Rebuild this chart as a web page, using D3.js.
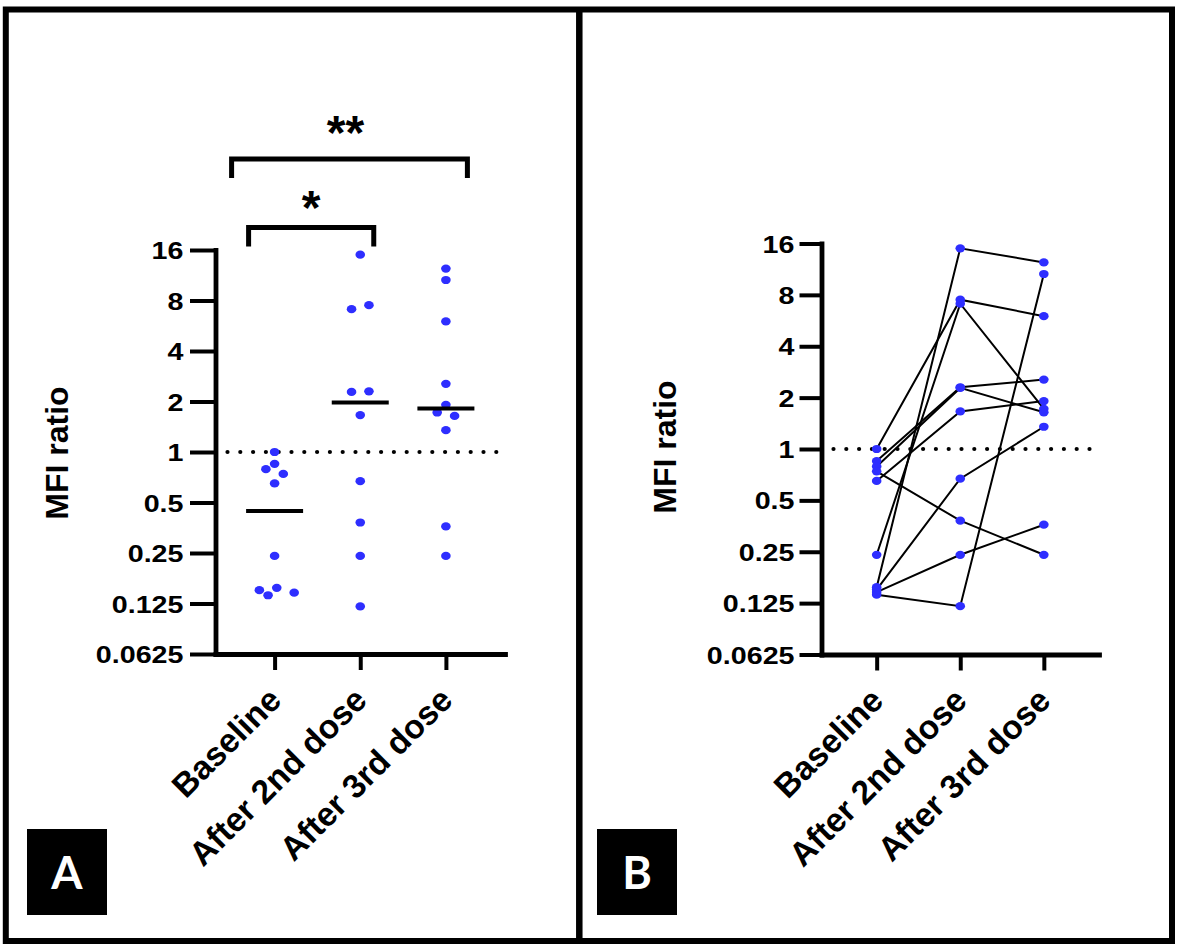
<!DOCTYPE html>
<html><head><meta charset="utf-8">
<script src="https://cdn.jsdelivr.net/npm/d3@7"></script>
<style>html,body{margin:0;padding:0;background:#fff;} svg{display:block}</style>
</head><body>
<script>
// ---------------- DATA ----------------
const categories = ["Baseline", "After 2nd dose", "After 3rd dose"];
// one value per subject (same subject order in every array)
const baseline   = [0.155, 1.0, 0.24, 0.85, 0.79, 0.65, 0.15, 0.74, 0.145, 0.14];
const afterDose2 = [15.0, 7.5, 7.1, 2.3, 2.28, 1.66, 0.67, 0.38, 0.24, 0.12];
const afterDose3 = [12.4, 6.0, 1.72, 2.55, 1.64, 1.91, 1.35, 0.24, 0.36, 10.6];
const yTicks = [0.0625, 0.125, 0.25, 0.5, 1, 2, 4, 8, 16];
const yTickLabels = ["0.0625", "0.125", "0.25", "0.5", "1", "2", "4", "8", "16"];
const comparisons = [
  {from: "Baseline", to: "After 2nd dose", label: "*"},
  {from: "Baseline", to: "After 3rd dose", label: "**"}
];
const yTitle = "MFI ratio";
const referenceValue = 1;

// ---------------- LAYOUT ----------------
const series = [baseline, afterDose2, afterDose3];
const W = 1181, H = 951;
const FONT = "'Liberation Sans', Arial, Helvetica, sans-serif";
const BLUE = "#2e2eff";

const svg = d3.select("body").append("svg").attr("width", W).attr("height", H);
svg.append("rect").attr("width", W).attr("height", H).attr("fill", "#fff");

const panels = [
  {letter: "A", mode: "scatter", axisX: 215.5, yTop: 250, yBottom: 654, xEnd: 505, pad: 0.69,
   tickLen: 25.5, tickPad: 6.5, titleX: 57, titleY: 453, boxX: 27},
  {letter: "B", mode: "lines", axisX: 821.5, yTop: 243.5, yBottom: 654.5, xEnd: 1099, pad: 0.66,
   tickLen: 22, tickPad: 5, titleX: 665, titleY: 447, boxX: 597}
];

panels.forEach(p => {
  const y = d3.scaleLog().base(2).domain([0.0625, 16]).range([p.yBottom, p.yTop]);
  const x = d3.scalePoint().domain(categories).range([p.axisX, p.xEnd]).padding(p.pad);
  const g = svg.append("g");

  // reference dotted line
  g.append("line")
    .attr("x1", p.axisX + 12).attr("x2", p.xEnd)
    .attr("y1", y(referenceValue)).attr("y2", y(referenceValue))
    .attr("stroke", "#000").attr("stroke-width", 4.2)
    .attr("stroke-linecap", "round").attr("stroke-dasharray", "0 12.8");

  // Y axis
  const ya = g.append("g").attr("transform", `translate(${p.axisX},0)`)
    .call(d3.axisLeft(y).tickValues(yTicks).tickFormat((d, i) => yTickLabels[i])
      .tickSize(p.tickLen).tickSizeOuter(0).tickPadding(p.tickPad));
  ya.select(".domain").attr("stroke", "#000").attr("stroke-width", 4.8).attr("stroke-linecap", "square");
  ya.selectAll(".tick line").attr("stroke", "#000").attr("stroke-width", 4);
  ya.selectAll(".tick text")
    .attr("font-family", FONT).attr("font-weight", "bold").attr("font-size", 24.5).attr("fill", "#000")
    .attr("x", -(p.tickLen + p.tickPad) / 1.17).attr("dy", "0.35em")
    .attr("transform", "scale(1.17,1)");

  // X axis
  const xa = g.append("g").attr("transform", `translate(0,${p.yBottom})`)
    .call(d3.axisBottom(x).tickSize(16).tickSizeOuter(0));
  xa.select(".domain").attr("stroke", "#000").attr("stroke-width", 4.8).attr("stroke-linecap", "square");
  xa.selectAll(".tick line").attr("stroke", "#000").attr("stroke-width", 4);
  xa.selectAll(".tick text")
    .attr("font-family", FONT).attr("font-weight", "bold").attr("font-size", 33.5).attr("fill", "#000")
    .attr("x", 0).attr("y", 0).attr("dy", 0).attr("text-anchor", "end")
    .attr("transform", "translate(8,48) rotate(-45)");

  // Y title
  g.append("text")
    .attr("transform", `translate(${p.titleX},${p.titleY}) rotate(-90)`)
    .attr("text-anchor", "middle").attr("dominant-baseline", "central")
    .attr("font-family", FONT).attr("font-weight", "bold").attr("font-size", 32)
    .text(yTitle);

  if (p.mode === "scatter") {
    const h = 8.7, D = 10;
    series.forEach((vals, ci) => {
      const cx = x(categories[ci]);
      const pts = vals.map(v => ({v, py: y(v), ox: 0})).sort((a, b) => a.py - b.py);
      const placed = [];
      const order = [0, -1, 1, -2, 2, -3, 3];
      pts.forEach(pt => {
        for (const k of order) {
          const ox = k * h;
          if (placed.every(q => Math.hypot(q.ox - ox, q.py - pt.py) >= D)) { pt.ox = ox; break; }
        }
        placed.push(pt);
      });
      // recenter collision clusters
      let cluster = [pts[0]];
      const flush = () => {
        if (cluster.length > 1) {
          const m = d3.mean(cluster, d => d.ox);
          cluster.forEach(d => d.ox -= m);
        }
      };
      for (let i = 1; i < pts.length; i++) {
        if (pts[i].py - pts[i - 1].py < D) cluster.push(pts[i]);
        else { flush(); cluster = [pts[i]]; }
      }
      flush();

      g.selectAll(null).data(pts).enter().append("ellipse")
        .attr("cx", d => cx + d.ox).attr("cy", d => d.py)
        .attr("rx", 4.8).attr("ry", 4.1).attr("fill", BLUE);

      const med = d3.median(vals);
      g.append("line")
        .attr("x1", cx - 28.5).attr("x2", cx + 28.5)
        .attr("y1", y(med)).attr("y2", y(med))
        .attr("stroke", "#000").attr("stroke-width", 4);
    });

    // significance brackets
    const padsL = [26, 43], padsR = [13.5, 21.5], textLift = [4, 10];
    comparisons.forEach((c, i) => {
      const x0 = x(c.from) - padsL[i], x1 = x(c.to) + padsR[i];
      const top = p.yTop - 22.5 - i * 68.5;
      g.append("path")
        .attr("d", `M${x0},${top + 19}V${top}H${x1}V${top + 19}`)
        .attr("fill", "none").attr("stroke", "#000").attr("stroke-width", 5)
        .attr("stroke-linejoin", "miter");
      g.append("text")
        .attr("x", (x0 + x1) / 2 - (i === 1 ? 4 : 0)).attr("y", top - textLift[i])
        .attr("text-anchor", "middle")
        .attr("font-family", FONT).attr("font-weight", "bold").attr("font-size", 48)
        .text(c.label);
    });
  } else {
    const n = series[0].length;
    const subjects = d3.range(n).map(i => categories.map((c, ci) => ({c, v: series[ci][i]})));
    const line = d3.line().x(d => x(d.c)).y(d => y(d.v));
    g.selectAll(null).data(subjects).enter().append("path")
      .attr("d", line).attr("fill", "none").attr("stroke", "#000").attr("stroke-width", 2);
    series.forEach((vals, ci) => {
      g.selectAll(null).data(vals).enter().append("ellipse")
        .attr("cx", x(categories[ci])).attr("cy", d => y(d))
        .attr("rx", 4.8).attr("ry", 4.1).attr("fill", BLUE);
    });
  }

  // panel letter box
  svg.append("rect").attr("x", p.boxX).attr("y", 829).attr("width", 80).attr("height", 86).attr("fill", "#000");
  svg.append("text").attr("x", p.boxX + 40).attr("y", 872)
    .attr("text-anchor", "middle").attr("dominant-baseline", "central")
    .attr("font-family", "Lato, 'Open Sans', sans-serif").attr("font-weight", "bold").attr("font-size", 45)
    .attr("fill", "#fff").text(p.letter);
});

// outer frame and divider
svg.append("rect").attr("x", 5.8).attr("y", 9.5).attr("width", 1166.2).attr("height", 931.5)
  .attr("fill", "none").attr("stroke", "#000").attr("stroke-width", 6);
svg.append("line").attr("x1", 579.3).attr("x2", 579.3).attr("y1", 9.5).attr("y2", 941)
  .attr("stroke", "#000").attr("stroke-width", 6.5);
</script>
</body></html>
